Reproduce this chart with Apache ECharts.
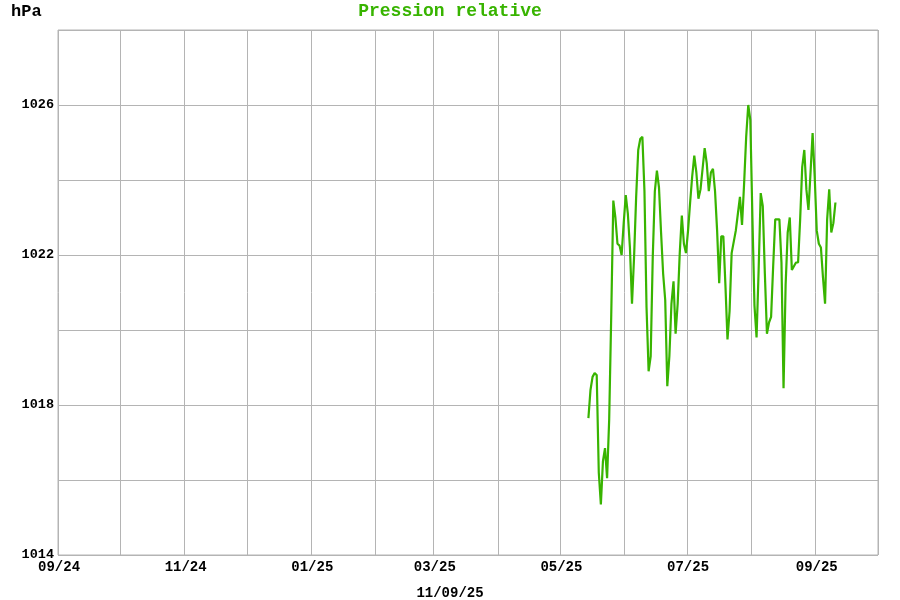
<!DOCTYPE html>
<html>
<head>
<meta charset="utf-8">
<script src="https://cdn.jsdelivr.net/npm/echarts@6/dist/echarts.min.js"></script>
<style>
  html, body { margin: 0; padding: 0; background: #ffffff; }
  #chart { width: 900px; height: 600px; }
</style>
</head>
<body>
<div id="chart"></div>
<script>
// ---- Data ----
const axisStart = '2024-09-01';   // first day on the x axis
const axisDays = 395;             // through 2025-09-30 (axis ends 2025-10-01)
const xTickLabels = ['09/24', '11/24', '01/25', '03/25', '05/25', '07/25', '09/25'];
const yTickLabels = [1014, 1018, 1022, 1026];
const pressureStart = '2025-05-14';
const pressure = [
  1017.65, 1018.4, 1018.75, 1018.85, 1018.8, 1016.2, 1015.35, 1016.5, 1016.85, 1016.05,
  1017.6, 1020.4, 1023.45, 1023.0, 1022.3, 1022.25, 1022.0, 1022.85, 1023.6, 1023.1,
  1022.2, 1020.7, 1021.95, 1023.55, 1024.8, 1025.1, 1025.15, 1023.7, 1020.6, 1018.9,
  1019.3, 1021.95, 1023.7, 1024.25, 1023.8, 1022.6, 1021.5, 1020.8, 1018.5, 1019.3,
  1020.7, 1021.3, 1019.9, 1020.7, 1022.05, 1023.05, 1022.3, 1022.05, 1022.65, 1023.4,
  1024.1, 1024.65, 1024.2, 1023.5, 1023.75, 1024.3, 1024.85, 1024.45, 1023.7, 1024.2,
  1024.3, 1023.7, 1022.65, 1021.25, 1022.5, 1022.5, 1021.2, 1019.75, 1020.5, 1022.05,
  1022.35, 1022.65, 1023.1, 1023.55, 1022.8, 1023.9, 1025.15, 1026.0, 1025.6, 1023.0,
  1020.65, 1019.8, 1021.6, 1023.65, 1023.3, 1021.5, 1019.9, 1020.2, 1020.35, 1021.7,
  1022.95, 1022.95, 1022.95, 1021.8, 1018.45, 1021.2, 1022.6, 1023.0, 1021.6, 1021.7,
  1021.8, 1021.8, 1022.95, 1024.35, 1024.8, 1023.75, 1023.2, 1024.2, 1025.25, 1024.1,
  1022.65, 1022.3, 1022.2, 1021.4, 1020.7, 1022.95, 1023.75, 1022.6, 1022.85, 1023.4
];
const chartTitle = 'Pression relative';
const unitLabel = 'hPa';
const dateLabel = '11/09/25';

// ---- Helpers ----
const DAY = 86400000;
function isoDay(ms) {
  const d = new Date(ms);
  const m = String(d.getUTCMonth() + 1).padStart(2, '0');
  const dd = String(d.getUTCDate()).padStart(2, '0');
  return d.getUTCFullYear() + '-' + m + '-' + dd;
}
const axisStartMs = Date.parse(axisStart + 'T00:00:00Z');
const categories = [];
for (let i = 0; i < axisDays; i++) categories.push(isoDay(axisStartMs + i * DAY));
const pStartMs = Date.parse(pressureStart + 'T00:00:00Z');
const seriesData = pressure.map((v, i) => [isoDay(pStartMs + i * DAY), v]);

function monthLabel(v) { return v.slice(5, 7) + '/' + v.slice(2, 4); }

const font = "'Liberation Mono', 'Courier New', monospace";
const gridColor = '#b4b4b4';
const green = '#38b400';

const chart = echarts.init(document.getElementById('chart'), null, { renderer: 'canvas' });
chart.setOption({
  animation: false,
  backgroundColor: '#ffffff',
  title: [
    { text: chartTitle, left: 'center', top: 2, padding: 0,
      textStyle: { fontFamily: font, fontWeight: 'bold', fontSize: 18, color: green } },
    { text: unitLabel, left: 11, top: 3, padding: 0,
      textStyle: { fontFamily: font, fontWeight: 'bold', fontSize: 17, color: '#000000' } },
    { text: dateLabel, left: 'center', top: 586, padding: 0,
      textStyle: { fontFamily: font, fontWeight: 'bold', fontSize: 14, color: '#000000' } }
  ],
  grid: { left: 58, right: 22, top: 30, bottom: 45, show: true,
          borderColor: gridColor, borderWidth: 1, backgroundColor: 'transparent' },
  xAxis: {
    type: 'category',
    data: categories,
    boundaryGap: true,
    axisLine: { show: false },
    axisTick: { show: false },
    splitLine: {
      show: true,
      interval: (idx, v) => v.slice(8) === '01',
      lineStyle: { color: gridColor, width: 1 }
    },
    axisLabel: {
      interval: (idx, v) => v.slice(8) === '01' && xTickLabels.indexOf(monthLabel(v)) >= 0,
      formatter: v => monthLabel(v),
      fontFamily: font, fontWeight: 'bold', fontSize: 14, color: '#000000', margin: 5
    }
  },
  yAxis: {
    type: 'value',
    min: 1014, max: 1028, interval: 2,
    axisLine: { show: false },
    axisTick: { show: false },
    splitLine: { show: true, lineStyle: { color: gridColor, width: 1 } },
    axisLabel: {
      formatter: v => (yTickLabels.indexOf(v) >= 0 ? String(v) : ''),
      fontFamily: font, fontWeight: 'bold', fontSize: 13.5, color: '#000000', margin: 4
    }
  },
  series: [{
    type: 'line',
    data: seriesData,
    showSymbol: false,
    symbol: 'none',
    lineStyle: { color: green, width: 2.2 },
    itemStyle: { color: green }
  }]
});
</script>
</body>
</html>
